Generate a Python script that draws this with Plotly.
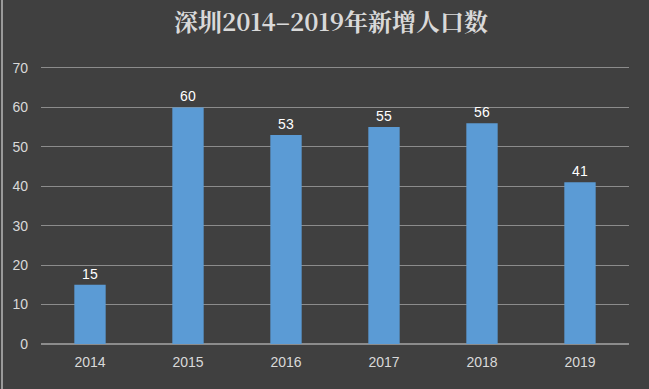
import plotly.graph_objects as go

years = ["2014", "2015", "2016", "2017", "2018", "2019"]
values = [15, 60, 53, 55, 56, 41]
y_ticks = [0, 10, 20, 30, 40, 50, 60, 70]
title_text = "深圳2014–2019年新增人口数"

fig = go.Figure()
fig.add_trace(go.Bar(
    x=years, y=values,
    marker=dict(color="#5B9BD5", line=dict(width=0)),
    width=0.32,
    text=[str(v) for v in values],
    textposition="outside",
    textfont=dict(color="#ffffff", size=14, family="Liberation Sans, Arial"),
    cliponaxis=False,
))

fig.update_layout(
    width=649, height=389,
    paper_bgcolor="#404040", plot_bgcolor="#404040",
    margin=dict(l=41, r=20, t=64, b=45),
    title=dict(text="<b>" + title_text + "</b>", x=0.51, xanchor="center", y=0.943, yanchor="middle",
               font=dict(size=24, color="#d9d9d9", family="Noto Serif CJK SC, Noto Sans CJK SC, serif")),
    showlegend=False,
    xaxis=dict(showgrid=False, showline=False, ticks="", zeroline=False, ticklabelstandoff=8,
               tickfont=dict(size=14, color="#d9d9d9", family="Liberation Sans, Arial")),
    yaxis=dict(range=[0, 71], tickvals=y_ticks, showgrid=True, gridcolor="#8c8c8c", gridwidth=1,
               zeroline=True, zerolinecolor="#8c8c8c", zerolinewidth=2, showline=False, ticks="",
               ticklabelstandoff=12,
               tickfont=dict(size=14, color="#d9d9d9", family="Liberation Sans, Arial")),
    bargap=0.68,
)
fig.add_shape(type="line", xref="paper", yref="paper", x0=-39/588, x1=-39/588, y0=-45/280, y1=1+64/280,
              line=dict(color="#9a9a9a", width=2))

fig.write_html("out.html", config={"displayModeBar": False},
               post_script="document.body.style.margin='0';document.body.style.background='#404040';")
